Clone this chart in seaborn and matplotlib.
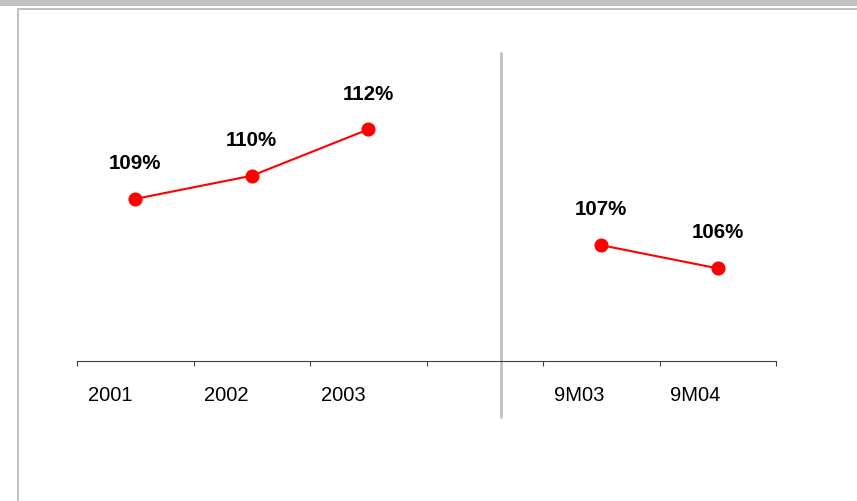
import matplotlib
matplotlib.use("Agg")
import matplotlib.pyplot as plt
from matplotlib.patches import Rectangle
import pandas as pd
import seaborn as sns

# categories (one empty slot between the yearly and the nine-month figures)
categories = ["2001", "2002", "2003", "", "9M03", "9M04"]
year_pos = [0, 1, 2]
year_vals = [109, 110, 112]
nine_pos = [4, 5]
nine_vals = [107, 106]
point_labels = ["109%", "110%", "112%", "107%", "106%"]

df = pd.DataFrame({
    "pos": year_pos + nine_pos,
    "value": year_vals + nine_vals,
    "period": ["year"] * len(year_pos) + ["9m"] * len(nine_pos),
})

sns.set_style("white")
plt.rcParams["font.family"] = ["Liberation Sans", "DejaVu Sans"]
plt.rcParams["text.color"] = "black"

W, H = 857, 501
fig = plt.figure(figsize=(W / 100, H / 100), dpi=100)
ax = fig.add_axes([77 / W, (H - 361) / H, 699 / W, 308 / H])

sns.lineplot(data=df, x="pos", y="value", hue="period", palette=["red", "red"],
             marker="o", markersize=9.4, markeredgecolor="red", linewidth=1.5,
             legend=False, ax=ax)

ax.set_xlim(-0.5, len(categories) - 0.5)
ax.set_ylim(102, 115.3)
ax.set_xlabel("")
ax.set_ylabel("")
ax.set_yticks([])
ax.set_xticks([i - 0.5 for i in range(len(categories) + 1)])
ax.set_xticklabels([])
ax.tick_params(axis="x", direction="out", length=3.6, width=0.8, color="#404040", bottom=True)
for s in ["left", "top", "right"]:
    ax.spines[s].set_visible(False)
ax.spines["bottom"].set_color("#404040")
ax.spines["bottom"].set_linewidth(0.8)

# category labels, left aligned inside each slot
for i, c in enumerate(categories):
    if c:
        ax.annotate(c, xy=(i - 0.5, 0), xycoords=("data", "axes fraction"),
                    xytext=(7.8, -24.5), textcoords="offset points",
                    ha="left", va="center", fontsize=14.5, color="black")

# value labels above the points
for x, y, t in zip(df["pos"], df["value"], point_labels):
    ax.annotate(t, xy=(x, y), xytext=(0, 25.5), textcoords="offset points",
                ha="center", va="center", fontsize=14.8, fontweight="bold",
                color="black")

# divider between yearly and nine-month figures
ax.axvline(3.136, ymin=-0.182, ymax=1.0, color="#c0c0c0", linewidth=2, clip_on=False)

# frame decoration
fig.add_artist(Rectangle((0, 1 - 5.5 / H), 1, 5.5 / H, transform=fig.transFigure,
                         color="#c0c0c0", lw=0))
fig.add_artist(Rectangle((17 / W, (H - 10.3) / H), 1, 2 / H, transform=fig.transFigure,
                         color="#c0c0c0", lw=0))
fig.add_artist(Rectangle((17 / W, 0), 2 / W, (H - 8.3) / H, transform=fig.transFigure,
                         color="#c0c0c0", lw=0))

fig.savefig("out.png", dpi=100)
